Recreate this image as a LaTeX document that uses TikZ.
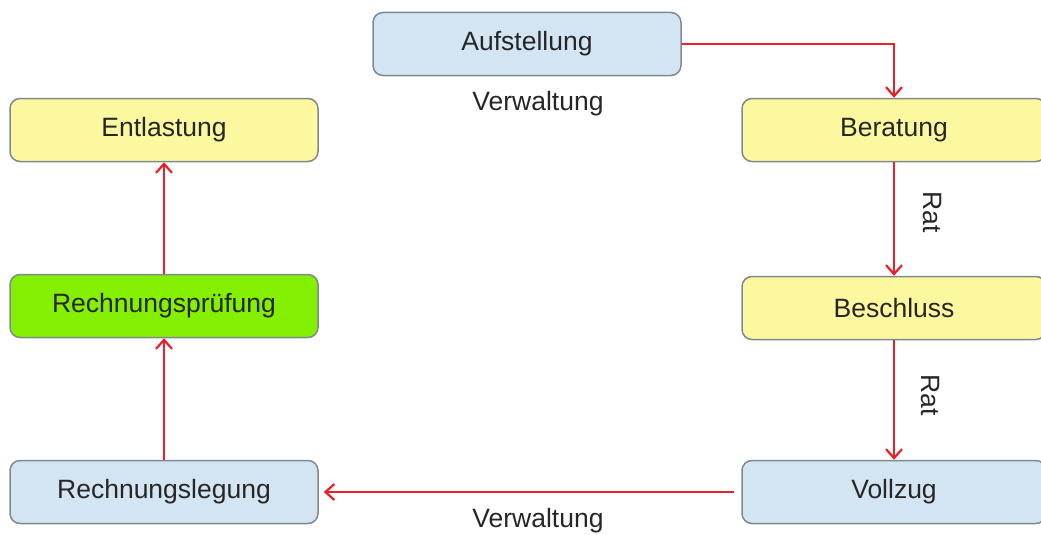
\documentclass[tikz,border=0pt]{standalone}
\usepackage{fontspec}
\setmainfont{Liberation Sans}
\usetikzlibrary{arrows.meta}
\definecolor{boxblue}{HTML}{D3E5F3}
\definecolor{boxyellow}{HTML}{FBF8A0}
\definecolor{boxgreen}{HTML}{84F000}
\definecolor{boxline}{HTML}{7F8A8E}
\definecolor{arrred}{HTML}{E8202A}
\definecolor{txt}{HTML}{262626}
\begin{document}
\begin{tikzpicture}[x=1pt,y=-1pt,
  box/.style={draw=boxline, line width=1.5pt, rounded corners=10pt, minimum width=308pt, minimum height=63pt, inner sep=0pt, font=\fontsize{26.5}{31}\selectfont, text=txt},
  bluebox/.style={box, fill=boxblue},
  yellowbox/.style={box, fill=boxyellow},
  greenbox/.style={box, fill=boxgreen},
  conn/.style={draw=arrred, line width=2.2pt, -{Straight Barb[length=9pt,width=16pt,line width=2.2pt]}},
  lbl/.style={font=\fontsize{26.5}{31}\selectfont, text=txt, inner sep=0pt}]
\useasboundingbox (0,0) rectangle (1041,535);
\begin{scope}
\clip (0,0) rectangle (1041,535);
\node[bluebox] (auf) at (527,44) {Aufstellung};
\node[yellowbox] (ent) at (164,130) {Entlastung};
\node[yellowbox, minimum width=304pt] (ber) at (894,130) {Beratung};
\node[greenbox] (pruef) at (164,306) {Rechnungspr\"ufung};
\node[yellowbox, minimum width=304pt] (besch) at (894,308) {Beschluss};
\node[bluebox] (legung) at (164,492) {Rechnungslegung};
\node[bluebox, minimum width=304pt] (voll) at (894,492) {Vollzug};
\end{scope}
\node[lbl] (verw1) at (538,104) {Verwaltung};
\node[lbl] (verw2) at (538,521) {Verwaltung};
\coordinate (vl) at ([xshift=-7pt]voll.west);
\coordinate (lr) at ([xshift=5pt]legung.east);
\draw[conn] (auf.east) -| (ber.north);
\draw[conn] (ber.south) -- (besch.north);
\node[lbl, rotate=-90] (rat1) at (932,212) {Rat};
\draw[conn] (besch.south) -- (voll.north);
\node[lbl, rotate=-90] (rat2) at (930,395) {Rat};
\draw[conn] (vl) -- (lr);
\draw[conn] (legung.north) -- (pruef.south);
\draw[conn] (pruef.north) -- (ent.south);
\end{tikzpicture}
\end{document}
